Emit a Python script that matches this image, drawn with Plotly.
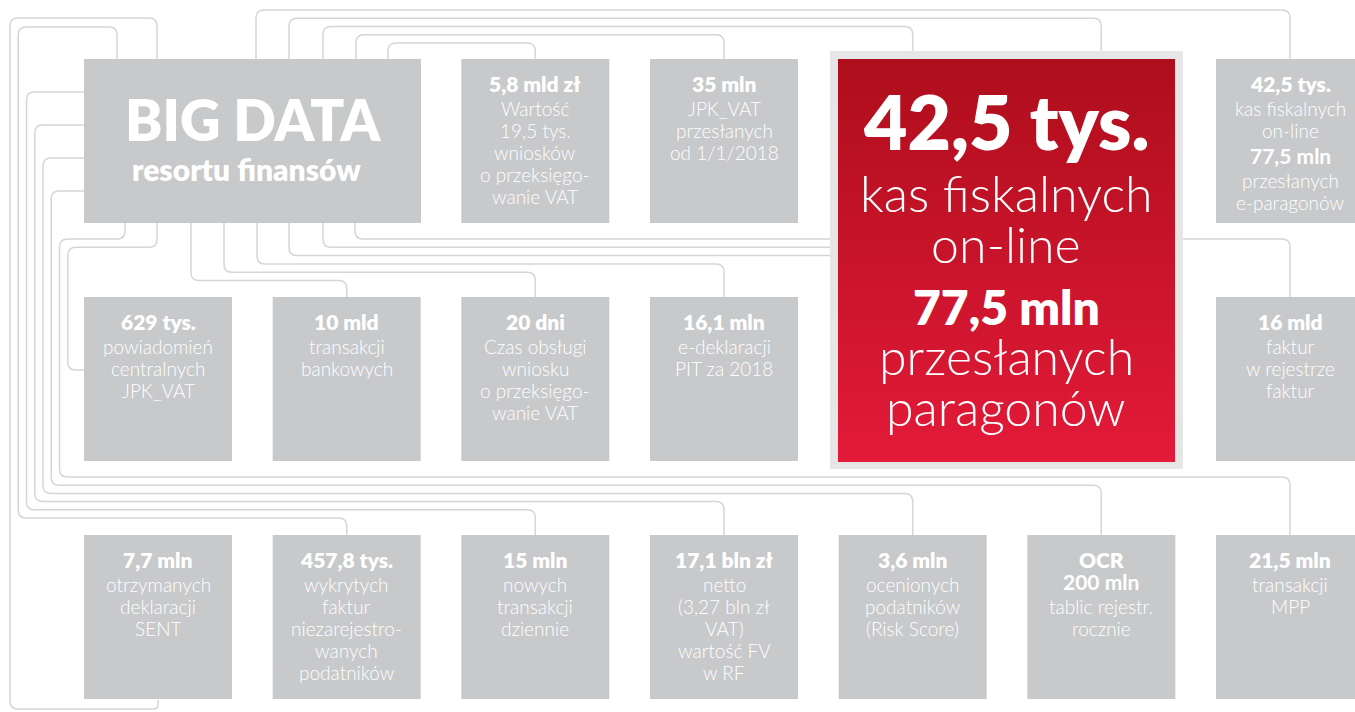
import plotly.graph_objects as go

# ---- content ----
big_title = "BIG DATA"
big_subtitle = "resortu finansów"

hero_lines = ["42,5 tys.", "kas fiskalnych", "on-line", "77,5 mln", "przesłanych", "paragonów"]
hero_bold = [True, False, False, True, False, False]

stat_values = [
    "5,8 mld zł", "35 mln", "42,5 tys.",
    "629 tys.", "10 mld", "20 dni", "16,1 mln", "16 mld",
    "7,7 mln", "457,8 tys.", "15 mln", "17,1 bln zł", "3,6 mln", "OCR", "21,5 mln",
]
stat_labels = [
    ["Wartość", "19,5 tys.", "wniosków", "o przeksięgo-", "wanie VAT"],
    ["JPK_VAT", "przesłanych", "od 1/1/2018"],
    ["kas fiskalnych", "on-line", "<b>77,5 mln</b>", "przesłanych", "e-paragonów"],
    ["powiadomień", "centralnych", "JPK_VAT"],
    ["transakcji", "bankowych"],
    ["Czas obsługi", "wniosku", "o przeksięgo-", "wanie VAT"],
    ["e-deklaracji", "PIT za 2018"],
    ["faktur", "w rejestrze", "faktur"],
    ["otrzymanych", "deklaracji", "SENT"],
    ["wykrytych", "faktur", "niezarejestro-", "wanych", "podatników"],
    ["nowych", "transakcji", "dziennie"],
    ["netto", "(3,27 bln zł", "VAT)", "wartość FV", "w RF"],
    ["ocenionych", "podatników", "(Risk Score)"],
    ["<b>200 mln</b>", "tablic rejestr.", "rocznie"],
    ["transakcji", "MPP"],
]
# grid cell (column, row) of every small box
stat_cells = [(2, 0), (3, 0), (6, 0),
              (0, 1), (1, 1), (2, 1), (3, 1), (6, 1),
              (0, 2), (1, 2), (2, 2), (3, 2), (4, 2), (5, 2), (6, 2)]

# ---- layout geometry ----
W, H = 1355, 712
X0, DX, BW = 84, 188.67, 148
ROW_TOP = [59, 297, 535]
BH = 164
BOX = "#c8c9cb"
LINE = "#d6d6d6"
FRAME = "#e6e6e6"
FONT = "Lato"


def cx(c):
    return X0 + DX * c + BW / 2


def rounded(points, r=8):
    # polyline with rounded corners as an svg path
    d = "M %.1f %.1f" % points[0]
    for i in range(1, len(points) - 1):
        (x0, y0), (x1, y1), (x2, y2) = points[i - 1], points[i], points[i + 1]
        l1 = max(abs(x1 - x0), abs(y1 - y0))
        l2 = max(abs(x2 - x1), abs(y2 - y1))
        rr = min(r, l1 / 2, l2 / 2)
        ax = x1 - (x1 - x0) / l1 * rr
        ay = y1 - (y1 - y0) / l1 * rr
        bx = x1 + (x2 - x1) / l2 * rr
        by = y1 + (y2 - y1) / l2 * rr
        d += " L %.1f %.1f Q %.1f %.1f %.1f %.1f" % (ax, ay, x1, y1, bx, by)
    d += " L %.1f %.1f" % points[-1]
    return d


left = [10 + 8.25 * k for k in range(8)]
top = [10 + 8.25 * k for k in range(5)]
mid = [239 + 8.3 * k for k in range(6)]
low = [477 + 8.2 * k for k in range(6)]
BIG_R, BIG_B = 421, 223
RED_L, RED_T = 838, 51

connectors = [
    [(157, 59), (157, 18), (left[0], 18), (left[0], 709), (cx(0), 709), (cx(0), 700)],
    [(117, 59), (117, 27), (left[1], 27), (left[1], low[5]), (cx(1), low[5]), (cx(1), 535)],
    [(X0, 92), (left[2], 92), (left[2], low[4]), (cx(2), low[4]), (cx(2), 535)],
    [(X0, 125), (left[3], 125), (left[3], low[3]), (cx(3), low[3]), (cx(3), 535)],
    [(X0, 158), (left[4], 158), (left[4], low[2]), (cx(4), low[2]), (cx(4), 535)],
    [(X0, 191), (left[5], 191), (left[5], low[1]), (cx(5), low[1]), (cx(5), 535)],
    [(125, BIG_B), (125, mid[0]), (left[6], mid[0]), (left[6], low[0]), (cx(6), low[0]), (cx(6), 535)],
    [(157, BIG_B), (157, mid[1]), (left[7], mid[1]), (left[7], 370), (X0, 370)],
    [(191, BIG_B), (191, mid[5]), (cx(1), mid[5]), (cx(1), 297)],
    [(224, BIG_B), (224, mid[4]), (cx(2), mid[4]), (cx(2), 297)],
    [(257, BIG_B), (257, mid[3]), (cx(3), mid[3]), (cx(3), 297)],
    [(289, BIG_B), (289, mid[2]), (RED_L, mid[2])],
    [(323, BIG_B), (323, mid[1]), (RED_L, mid[1])],
    [(355, BIG_B), (355, mid[0]), (cx(6), mid[0]), (cx(6), 297)],
    [(256, 59), (256, top[0]), (cx(6), top[0]), (cx(6), 59)],
    [(289, 59), (289, top[1]), (cx(5), top[1]), (cx(5), RED_T)],
    [(323, 59), (323, top[2]), (cx(4), top[2]), (cx(4), RED_T)],
    [(356, 59), (356, top[3]), (cx(3), top[3]), (cx(3), 59)],
    [(388, 59), (388, top[4]), (cx(2), top[4]), (cx(2), 59)],
]

shapes = []
for pts in connectors:
    shapes.append(dict(type="path", path=rounded(pts), xref="x", yref="y",
                       line=dict(color=LINE, width=1.5), layer="below"))

# big data box
shapes.append(dict(type="rect", x0=X0, x1=BIG_R, y0=59, y1=BIG_B, xref="x", yref="y",
                   fillcolor=BOX, line=dict(width=0), layer="below"))
# small boxes
for c, r in stat_cells:
    shapes.append(dict(type="rect", x0=X0 + DX * c, x1=X0 + DX * c + BW,
                       y0=ROW_TOP[r], y1=ROW_TOP[r] + BH, xref="x", yref="y",
                       fillcolor=BOX, line=dict(width=0), layer="below"))
# frame of the highlighted box
shapes.append(dict(type="rect", x0=830, x1=1183, y0=51, y1=469, xref="x", yref="y",
                   fillcolor=FRAME, line=dict(width=0), layer="below"))

fig = go.Figure()

# red highlighted box with a vertical gradient
fig.add_trace(go.Scatter(
    x=[838, 1175, 1175, 838, 838], y=[59, 59, 462, 462, 59],
    mode="lines", fill="toself", line=dict(width=0),
    fillgradient=dict(type="vertical", start=59, stop=462,
                      colorscale=[[0, "#ae0e1c"], [1, "#e31a39"]]),
    hoverinfo="skip", showlegend=False,
))

ann = []


def txt(x, y, s, size, bold=False):
    ann.append(dict(x=x, y=y, xref="x", yref="y", text=s, showarrow=False,
                    xanchor="center", yanchor="middle",
                    font=dict(family=FONT, size=size, color="white",
                              weight=800 if bold else 300)))


# big data caption
txt((X0 + BIG_R) / 2, 119, big_title, 56, bold=True)
txt(246, 169, big_subtitle, 30, bold=True)

# hero text
hero_y = [121, 193, 244, 306, 356, 407]
hero_size = [75, 50, 50, 48, 50, 50]
for s, b, y, fs in zip(hero_lines, hero_bold, hero_y, hero_size):
    txt(1006, y, s, fs, bold=b)

# small boxes
for val, lines, (c, r) in zip(stat_values, stat_labels, stat_cells):
    y = ROW_TOP[r] + 24.5
    txt(cx(c), y, val, 21, bold=True)
    prev_bold = True
    for s in lines:
        b = s.startswith("<b>")
        y += 22 if b == prev_bold else 25
        txt(cx(c), y, s, 21 if b else 19, bold=b)
        prev_bold = b

fig.update_layout(
    width=W, height=H,
    margin=dict(l=0, r=0, t=0, b=0),
    paper_bgcolor="white", plot_bgcolor="white",
    xaxis=dict(range=[0, W], visible=False, fixedrange=True),
    yaxis=dict(range=[H, 0], visible=False, fixedrange=True),
    shapes=shapes, annotations=ann, showlegend=False,
)

fig.write_html("out.html", config={"displayModeBar": False},
               post_script="document.body.style.margin='0';document.body.style.overflow='hidden';")
